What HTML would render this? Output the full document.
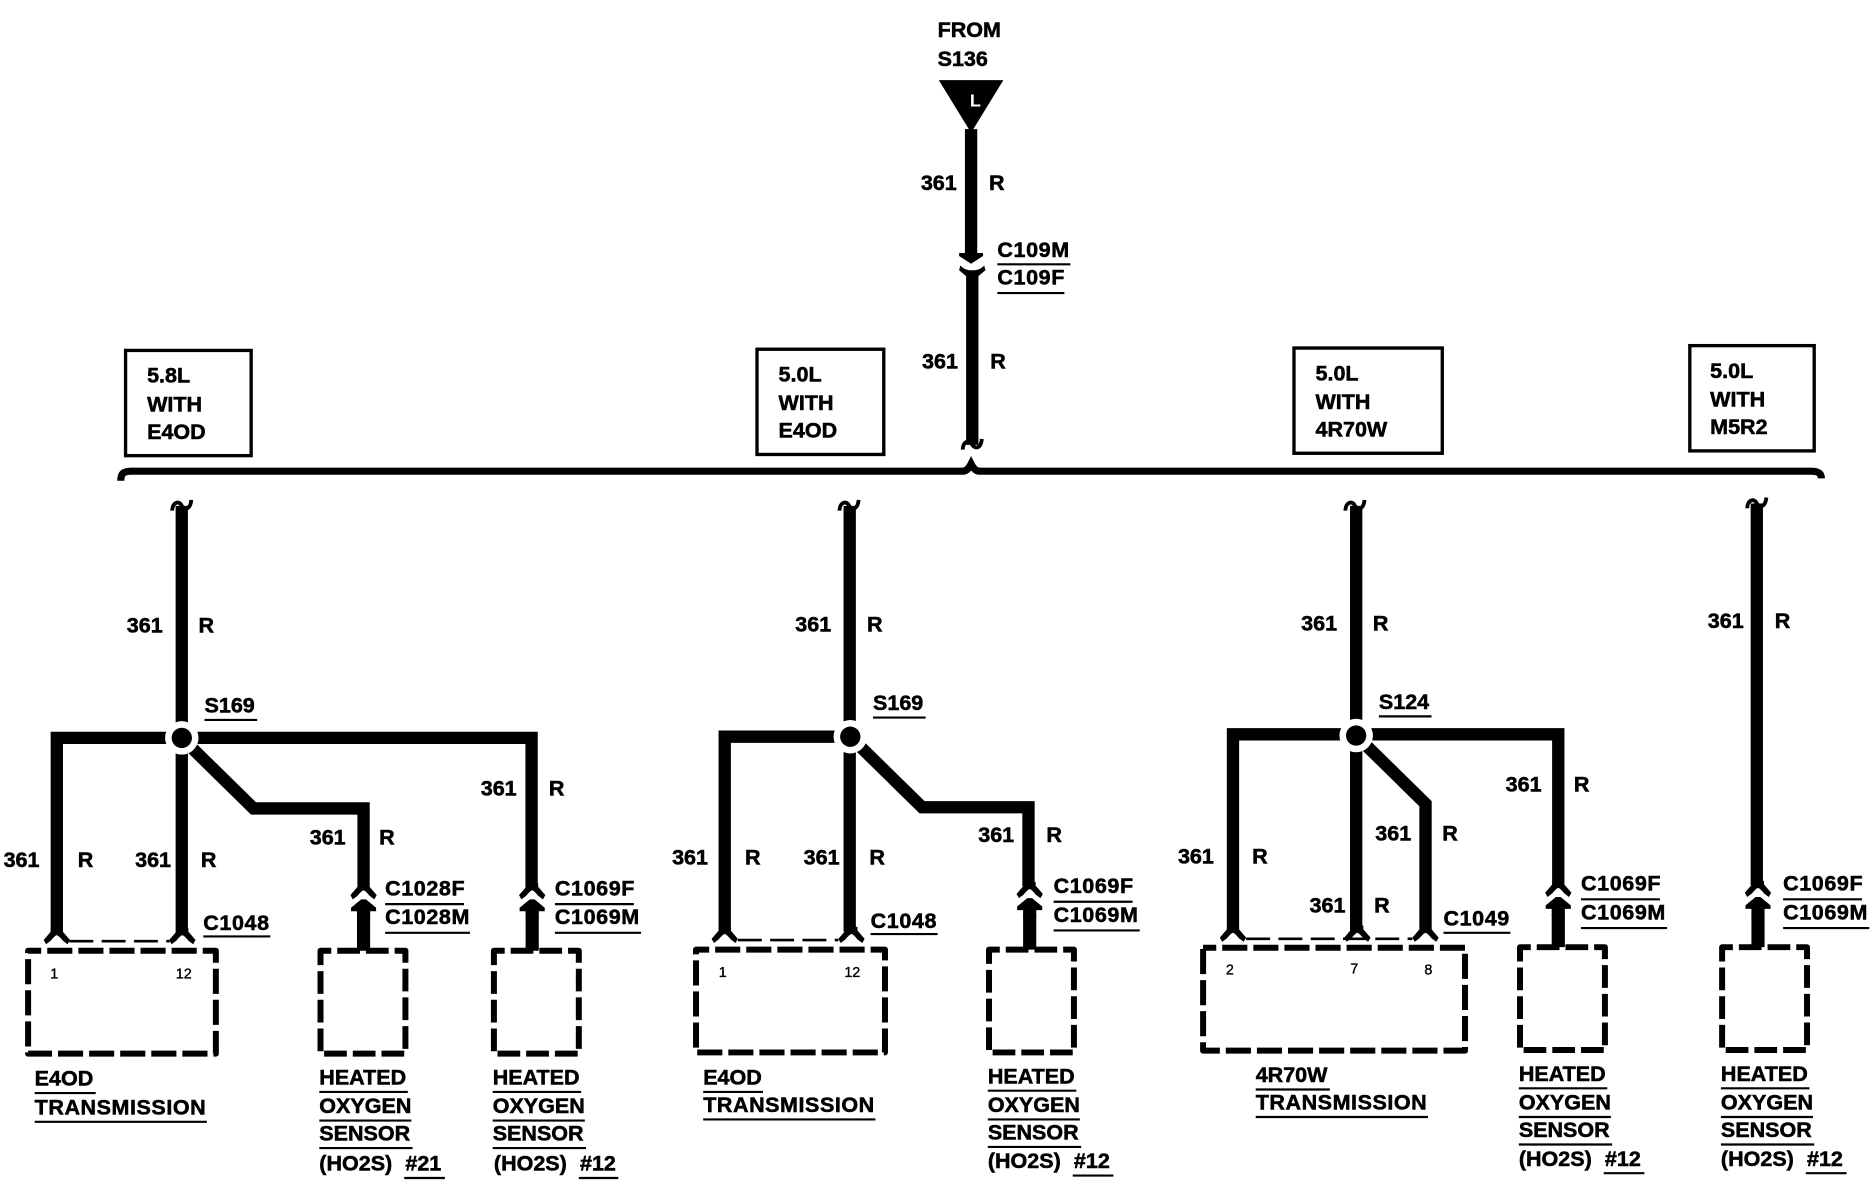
<!DOCTYPE html>
<html><head><meta charset="utf-8"><style>
html,body{margin:0;padding:0;background:#fff}
svg{display:block}
text{font-family:"Liberation Sans",sans-serif;font-weight:700;font-size:18px;fill:#000;stroke:#000;stroke-width:.45}
.c{letter-spacing:.5px;transform:translateY(-1.2px)}
.n{transform:translateY(-1.2px)}
.h{word-spacing:6px}
.w{fill:none;stroke:#000;stroke-width:10.3;stroke-linejoin:miter}
.x{fill:none;stroke:#000;stroke-width:11}
.u{stroke:#000;stroke-width:1.8}
.b{fill:none;stroke:#000;stroke-width:2.8}
.d{fill:none;stroke:#000;stroke-width:5;stroke-dasharray:21 5;stroke-dashoffset:10;stroke-linejoin:round}
.s{fill:none;stroke:#000;stroke-width:5;stroke-dasharray:19 5;stroke-dashoffset:10;stroke-linejoin:round}
.l{stroke:#000;stroke-width:2.2;stroke-dasharray:20 7;fill:none}
.t{font-size:12px;font-weight:400;stroke-width:.3}
</style></head><body>
<svg width="1874" height="1184" viewBox="0 0 1567 990" xmlns="http://www.w3.org/2000/svg">
<defs>
<path id="pin" d="M-5-8H5V-5L11 2L9 5.5L5 2.5C3 0 1-2 0-2C-1-2-3 0-5 2.5L-9 5.5L-11 2L-5-5Z" fill="#000"/>
<path id="male" d="M-2 0H2L10.5 7V10H5.5V16H-5.5V10H-10.5V7Z" fill="#000"/>
<g id="curl"><path d="M-8 4C-8-3-2-5 0 0C2 3 7 4 8-5" fill="none" stroke="#000" stroke-width="3.2"/></g>
<g id="node"><circle r="14" fill="#fff"/><circle r="8.5" fill="#000"/></g>
</defs>
<rect width="1567" height="990" fill="#fff"/>

<!-- top -->
<text x="784" y="31">FROM</text><text x="784" y="55">S136</text>
<path d="M785 67H839L812 111Z" fill="#000"/>
<text x="811" y="89" style="fill:#fff;stroke:none;font-size:15px;font-weight:700">L</text>
<path class="w" d="M812 108V212"/>
<path d="M802 211.5H822V214L812 220.5L802 214Z" fill="#000"/>
<path d="M803 222C807 226 810 226 813 226C816 226 819 226 823 222L824 226L818 231H808L802 226Z" fill="#000"/>
<path class="w" d="M813 230V372"/>
<use href="#curl" x="813" y="372"/>
<text x="770" y="159">361</text><text x="827" y="159">R</text>
<text class="c" x="834" y="216">C109M</text><line class="u" x1="834" x2="895" y1="221" y2="221"/>
<text class="c" x="834" y="239">C109F</text><line class="u" x1="834" x2="890" y1="245" y2="245"/>
<text x="771" y="308">361</text><text x="828" y="308">R</text>

<!-- bus -->
<path d="M101 402C101 396 103 394 110 394H805C808 394 810 392 812 388C814 392 816 394 819 394H1514C1521 394 1523 396 1523 400" fill="none" stroke="#000" stroke-width="6"/>

<!-- option boxes -->
<rect class="b" x="105" y="293" width="105" height="88"/>
<rect class="b" x="633" y="292" width="106" height="88"/>
<rect class="b" x="1082" y="291" width="124" height="88"/>
<rect class="b" x="1413" y="289" width="104" height="88"/>
<text x="123" y="320">5.8L</text><text x="123" y="344">WITH</text><text x="123" y="367">E4OD</text>
<text x="651" y="319">5.0L</text><text x="651" y="343">WITH</text><text x="651" y="366">E4OD</text>
<text x="1100" y="318">5.0L</text><text x="1100" y="342">WITH</text><text x="1100" y="365">4R70W</text>
<text x="1430" y="316">5.0L</text><text x="1430" y="340">WITH</text><text x="1430" y="363">M5R2</text>

<!-- branch 1 -->
<use href="#curl" x="152" y="423"/>
<path class="w" d="M152 423V780M47.5 780V617H444.5V742M158 623L212 676H304V742"/>
<use href="#node" x="152" y="617"/>
<use href="#pin" x="47.5" y="784"/><use href="#pin" x="152.5" y="784"/>
<path class="l" d="M58 787H142"/>
<use href="#pin" x="304" y="746.5"/><use href="#male" x="304" y="752"/><path class="x" d="M304 766V795"/>
<use href="#pin" x="445" y="746.5"/><use href="#male" x="445" y="752"/><path class="x" d="M445 766V795"/>
<rect class="d" x="23.5" y="795" width="157" height="86"/>
<rect class="s" x="268" y="795" width="71" height="86"/>
<rect class="s" x="413" y="795" width="71" height="86"/>
<text class="t" x="42" y="818">1</text><text class="t" x="147" y="818">12</text>
<text x="106" y="529">361</text><text x="166" y="529">R</text>
<text class="n" x="171" y="597">S169</text><line class="u" x1="171" x2="215" y1="602" y2="602"/>
<text x="3" y="725">361</text><text x="65" y="725">R</text>
<text x="113" y="725">361</text><text x="168" y="725">R</text>
<text x="259" y="706">361</text><text x="317" y="706">R</text>
<text x="402" y="665">361</text><text x="459" y="665">R</text>
<text class="c" x="170" y="779">C1048</text><line class="u" x1="170" x2="226" y1="783" y2="783"/>
<text class="c" x="322" y="750">C1028F</text><line class="u" x1="322" x2="388" y1="756" y2="756"/>
<text class="c" x="322" y="774">C1028M</text><line class="u" x1="322" x2="393" y1="780" y2="780"/>
<text class="c" x="464" y="750">C1069F</text><line class="u" x1="464" x2="530" y1="756" y2="756"/>
<text class="c" x="464" y="774">C1069M</text><line class="u" x1="464" x2="536" y1="780" y2="780"/>
<text class="n" x="29" y="909">E4OD</text><line class="u" x1="29" x2="80" y1="914" y2="914"/>
<text class="n" x="29" y="933" textLength="143">TRANSMISSION</text><line class="u" x1="29" x2="173" y1="938" y2="938"/>
<text class="n" x="267" y="908">HEATED</text><line class="u" x1="267" x2="341" y1="913" y2="913"/>
<text class="n" x="267" y="932">OXYGEN</text><line class="u" x1="267" x2="344" y1="937" y2="937"/>
<text class="n" x="267" y="955">SENSOR</text><line class="u" x1="267" x2="345" y1="960" y2="960"/>
<text class="h n" x="267" y="980">(HO2S) #21</text><line class="u" x1="338" x2="372" y1="985" y2="985"/>
<text class="n" x="412" y="908">HEATED</text><line class="u" x1="412" x2="486" y1="913" y2="913"/>
<text class="n" x="412" y="932">OXYGEN</text><line class="u" x1="412" x2="489" y1="937" y2="937"/>
<text class="n" x="412" y="955">SENSOR</text><line class="u" x1="412" x2="490" y1="960" y2="960"/>
<text class="h n" x="413" y="980">(HO2S) #12</text><line class="u" x1="484" x2="517" y1="985" y2="985"/>

<!-- branch 2 -->
<use href="#curl" x="710" y="423"/>
<path class="w" d="M710.5 423V779M606 779V616H711M717 622L771 675H860V741"/>
<use href="#node" x="711" y="616"/>
<use href="#pin" x="606" y="783"/><use href="#pin" x="712" y="783"/>
<path class="l" d="M617 786H701"/>
<use href="#pin" x="861" y="745.5"/><use href="#male" x="861" y="751"/><path class="x" d="M861 765V794"/>
<rect class="d" x="582" y="794" width="158" height="86"/>
<rect class="s" x="827" y="794" width="71" height="86"/>
<text class="t" x="601" y="817">1</text><text class="t" x="706" y="817">12</text>
<text x="665" y="528">361</text><text x="725" y="528">R</text>
<text class="n" x="730" y="595">S169</text><line class="u" x1="730" x2="774" y1="600" y2="600"/>
<text x="562" y="723">361</text><text x="623" y="723">R</text>
<text x="672" y="723">361</text><text x="727" y="723">R</text>
<text x="818" y="704">361</text><text x="875" y="704">R</text>
<text class="c" x="728" y="777">C1048</text><line class="u" x1="728" x2="784" y1="781" y2="781"/>
<text class="c" x="881" y="748">C1069F</text><line class="u" x1="881" x2="947" y1="754" y2="754"/>
<text class="c" x="881" y="772">C1069M</text><line class="u" x1="881" x2="953" y1="778" y2="778"/>
<text class="n" x="588" y="908">E4OD</text><line class="u" x1="588" x2="638" y1="913" y2="913"/>
<text class="n" x="588" y="931" textLength="143">TRANSMISSION</text><line class="u" x1="588" x2="732" y1="936" y2="936"/>
<text class="n" x="826" y="907">HEATED</text><line class="u" x1="826" x2="900" y1="912" y2="912"/>
<text class="n" x="826" y="931">OXYGEN</text><line class="u" x1="826" x2="903" y1="936" y2="936"/>
<text class="n" x="826" y="954">SENSOR</text><line class="u" x1="826" x2="904" y1="959" y2="959"/>
<text class="h n" x="826" y="978">(HO2S) #12</text><line class="u" x1="897" x2="931" y1="983" y2="983"/>

<!-- branch 3 -->
<use href="#curl" x="1133" y="423"/>
<path class="w" d="M1134 423V778M1031 778V614H1303V740M1140 621L1192 672V778"/>
<use href="#node" x="1134" y="615"/>
<use href="#pin" x="1031" y="782"/><use href="#pin" x="1135" y="782"/><use href="#pin" x="1192" y="782"/>
<path class="l" d="M1042 785H1181"/>
<use href="#pin" x="1303" y="744.5"/><use href="#male" x="1303" y="750"/><path class="x" d="M1303 764V792"/>
<rect class="d" x="1006" y="792.5" width="219" height="86"/>
<rect class="s" x="1271" y="792" width="71" height="86"/>
<text class="t" x="1025" y="815">2</text><text class="t" x="1129" y="814">7</text><text class="t" x="1191" y="815">8</text>
<text x="1088" y="527">361</text><text x="1148" y="527">R</text>
<text class="n" x="1153" y="594">S124</text><line class="u" x1="1153" x2="1197" y1="599" y2="599"/>
<text x="985" y="722">361</text><text x="1047" y="722">R</text>
<text x="1095" y="763">361</text><text x="1149" y="763">R</text>
<text x="1150" y="703">361</text><text x="1206" y="703">R</text>
<text x="1259" y="662">361</text><text x="1316" y="662">R</text>
<text class="c" x="1207" y="775">C1049</text><line class="u" x1="1207" x2="1263" y1="780" y2="780"/>
<text class="c" x="1322" y="746">C1069F</text><line class="u" x1="1322" x2="1388" y1="752" y2="752"/>
<text class="c" x="1322" y="770">C1069M</text><line class="u" x1="1322" x2="1394" y1="776" y2="776"/>
<text class="n" x="1050" y="906">4R70W</text><line class="u" x1="1050" x2="1112" y1="911" y2="911"/>
<text class="n" x="1050" y="929" textLength="143">TRANSMISSION</text><line class="u" x1="1050" x2="1194" y1="934" y2="934"/>
<text class="n" x="1270" y="905">HEATED</text><line class="u" x1="1270" x2="1344" y1="910" y2="910"/>
<text class="n" x="1270" y="929">OXYGEN</text><line class="u" x1="1270" x2="1347" y1="934" y2="934"/>
<text class="n" x="1270" y="952">SENSOR</text><line class="u" x1="1270" x2="1348" y1="957" y2="957"/>
<text class="h n" x="1270" y="976">(HO2S) #12</text><line class="u" x1="1341" x2="1375" y1="981" y2="981"/>

<!-- branch 4 -->
<use href="#curl" x="1469" y="421"/>
<path class="w" d="M1469 421V740"/>
<use href="#pin" x="1470" y="744.5"/><use href="#male" x="1470" y="750"/><path class="x" d="M1470 764V792"/>
<rect class="s" x="1440" y="792" width="71" height="86"/>
<text x="1428" y="525">361</text><text x="1484" y="525">R</text>
<text class="c" x="1491" y="746">C1069F</text><line class="u" x1="1491" x2="1557" y1="752" y2="752"/>
<text class="c" x="1491" y="770">C1069M</text><line class="u" x1="1491" x2="1563" y1="776" y2="776"/>
<text class="n" x="1439" y="905">HEATED</text><line class="u" x1="1439" x2="1513" y1="910" y2="910"/>
<text class="n" x="1439" y="929">OXYGEN</text><line class="u" x1="1439" x2="1516" y1="934" y2="934"/>
<text class="n" x="1439" y="952">SENSOR</text><line class="u" x1="1439" x2="1517" y1="957" y2="957"/>
<text class="h n" x="1439" y="976">(HO2S) #12</text><line class="u" x1="1510" x2="1544" y1="981" y2="981"/>
</svg>
</body></html>
